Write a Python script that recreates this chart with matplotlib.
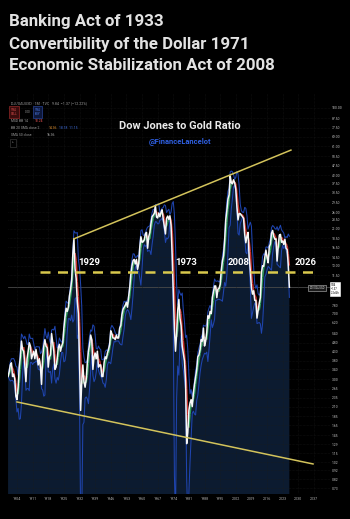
import matplotlib
matplotlib.use("Agg")
import matplotlib.pyplot as plt
from matplotlib.collections import LineCollection
import numpy as np
import pandas as pd

# Dow Jones / Gold ratio, one reading every half year (Jan, Jul), 1900 -> 2026
start_year = 1900.0
ratio = [
    3.1, 3.3, 3.6, 3.7, 3.1, 3.2, 3.0, 2.4, 2.3, 2.7,      # 1900-1904
    3.5, 4.0, 4.9, 4.4, 4.3, 3.6, 2.9, 3.9, 4.3, 4.8,      # 1905-1909
    4.6, 3.9, 4.1, 4.3, 3.9, 4.4, 4.0, 3.6, 3.9, 3.5,      # 1910-1914
    2.8, 4.0, 4.6, 5.0, 4.6, 4.5, 3.5, 4.0, 4.1, 5.4,      # 1915-1919
    4.8, 4.3, 3.4, 3.5, 3.9, 4.5, 4.7, 4.3, 4.6, 4.8,      # 1920-1924
    5.8, 6.7, 7.5, 7.2, 7.6, 8.8, 9.6, 10.8, 15.0, 18.4,   # 1925-1929
    12.5, 11.0, 8.2, 7.0, 3.8, 2.0, 2.9, 3.6, 2.9, 2.7,    # 1930-1934
    3.0, 3.7, 4.3, 4.7, 5.3, 5.0, 3.4, 4.0, 4.2, 3.9,      # 1935-1939
    4.3, 3.5, 3.6, 3.6, 3.1, 3.1, 3.7, 4.0, 3.9, 4.2,      # 1940-1944
    4.4, 4.7, 5.6, 5.4, 5.1, 5.1, 5.0, 5.3, 5.1, 5.1,      # 1945-1949
    5.8, 6.0, 6.9, 7.4, 7.6, 7.8, 8.1, 7.6, 8.7, 9.8,      # 1950-1954
    11.6, 13.0, 13.9, 14.1, 13.3, 14.1, 12.4, 13.3, 16.5, 18.9,  # 1955-1959
    17.6, 17.7, 18.2, 19.6, 20.0, 16.3, 18.9, 20.0, 22.4, 24.5,  # 1960-1964
    25.0, 25.6, 28.2, 24.4, 24.1, 25.7, 24.5, 25.9, 26.8, 23.8,  # 1965-1969
    21.5, 19.6, 24.0, 24.7, 23.7, 24.8, 22.0, 15.0, 9.5, 5.8,    # 1970-1974
    4.3, 5.4, 7.3, 8.4, 6.6, 6.0, 4.6, 4.2, 3.8, 2.9,      # 1975-1979
    1.3, 1.5, 2.0, 2.2, 2.3, 2.1, 2.5, 2.8, 3.1, 3.4,      # 1980-1984
    4.0, 4.1, 4.4, 5.0, 4.9, 5.8, 4.6, 4.9, 5.5, 6.8,      # 1985-1989
    6.6, 7.2, 7.0, 8.6, 9.3, 10.0, 10.0, 8.6, 9.6, 9.7,    # 1990-1994
    10.2, 12.2, 13.8, 14.8, 18.0, 23.5, 26.6, 30.8, 32.5, 41.5,  # 1995-1999
    38.0, 37.5, 39.5, 38.0, 35.0, 28.0, 23.5, 25.5, 25.5, 25.0,  # 2000-2004
    24.5, 24.0, 19.5, 17.5, 19.0, 20.0, 14.5, 12.2, 9.8, 9.0,    # 2005-2009
    9.4, 8.3, 8.3, 6.6, 7.3, 8.0, 8.6, 11.9, 13.0, 12.9,   # 2010-2014
    14.5, 15.9, 14.5, 13.5, 16.6, 17.2, 19.8, 20.5, 19.0, 18.3,  # 2015-2019
    18.4, 13.8, 16.6, 19.3, 19.5, 17.6, 17.9, 17.1, 18.3, 16.3,  # 2020-2024
    16.0, 13.2, 9.84,                                      # 2025-2026
]
last_price = 9.84

# trend lines: (year, ratio) end points
upper_trend = [(1929.5, 18.4), (2026.7, 58.0)]
lower_trend = [(1904.0, 2.23), (2036.6, 1.0)]
support_level = 12.0
support_span = (1914.3, 2038.8)

# era labels: text, year position, ratio position
era_labels = [("1929", 1936.2, 13.5), ("1973", 1979.7, 13.5),
              ("2008", 2003.4, 13.5), ("2026", 2033.4, 13.5)]

title_lines = ["Banking Act of 1933",
               "Convertibility of the Dollar 1971",
               "Economic Stabilization Act of 2008"]

x_ticks = list(range(1904, 2038, 7))
y_ticks = [100.00, 87.50, 77.50, 69.00, 61.00, 53.50, 47.50, 42.00, 37.50,
           33.50, 29.50, 26.00, 23.50, 21.00, 18.50, 16.50, 14.50, 13.00, 11.50,
           7.80, 7.00, 6.20, 5.40, 4.80, 4.30, 3.80, 3.40, 3.00, 2.65, 2.35,
           2.10, 1.85, 1.65, 1.45, 1.29, 1.15, 1.02, 0.92, 0.82, 0.73]

years = start_year + 0.5 * np.arange(len(ratio))
s = pd.Series(ratio, index=years)
ma = s.rolling(3, min_periods=1).mean()
bb_mid = s.rolling(4, min_periods=1).mean()
bb_std = s.rolling(4, min_periods=1).std(ddof=0).fillna(0)
bb_up = bb_mid + 2 * bb_std
bb_lo = (bb_mid - 2 * bb_std).clip(lower=0.5)

plt.rcParams['font.family'] = ['Roboto', 'DejaVu Sans']
fig = plt.figure(figsize=(3.5, 5.19), dpi=100, facecolor='black')
ax = fig.add_axes([8 / 350, 25 / 519, 322 / 350, 401 / 519])
ax.set_facecolor('black')
ax.set_yscale('log')
ax.set_xlim(1899.97, 2044.2)
ax.set_ylim(0.678, 121.4)

ax.fill_between(years, ratio, 0.01, color='#0c1b30', lw=0, zorder=1)
ax.plot(years, bb_up, color='#1f45b0', lw=0.75, zorder=2)
ax.plot(years, bb_lo, color='#1f45b0', lw=0.75, zorder=2)

pts = np.column_stack([years, ma.values])
segs = np.stack([pts[:-1], pts[1:]], axis=1)
cols = ['#2f9e5a' if b >= a else '#c9302c' for a, b in zip(ma.values[:-1], ma.values[1:])]
ax.add_collection(LineCollection(segs, colors=cols, linewidths=1.1, zorder=3))
ax.plot(years, ratio, color='#f7f7f7', lw=1.1, zorder=4)

ax.axhline(last_price, color='#4a4a4a', lw=0.6, zorder=1.5)
(x0, y0), (x1, y1) = upper_trend
ax.plot([x0, x1], [y0, y1], color='#d3c35b', lw=1.1, zorder=5)
(x0, y0), (x1, y1) = lower_trend
ax.plot([x0, x1], [y0, y1], color='#d3c35b', lw=1.1, zorder=5)
ax.plot(support_span, [support_level] * 2, color='#d9c94d', lw=1.8,
        dashes=(4, 3), zorder=5)

for txt, xv, yv in era_labels:
    ax.text(xv, yv, txt, color='white', fontsize=6.8, fontweight='bold',
            ha='center', va='center', zorder=6)

ax.set_xticks(x_ticks)
ax.set_xticklabels([str(y) for y in x_ticks])
ax.set_yticks(y_ticks)
ax.set_yticklabels([f"{v:.2f}" for v in y_ticks])
ax.yaxis.set_minor_locator(matplotlib.ticker.NullLocator())
ax.yaxis.tick_right()
ax.tick_params(axis='x', colors='#b0b0b0', labelsize=2.6, length=0, pad=2)
ax.tick_params(axis='y', colors='#c0c0c0', labelsize=2.4, length=0, pad=1.5)
ax.grid(True, color='#1b1b1b', lw=0.4, ls=(0, (1, 1.5)))
for sp in ax.spines.values():
    sp.set_visible(False)

# title block
for i, line in enumerate(title_lines):
    fig.text(9 / 350, 1 - (22 + 22 * i) / 519, line, color='#e2e2e2',
             fontsize=12.2, fontweight='bold', ha='left', va='center')

fig.text(180 / 350, 1 - 126 / 519, "Dow Jones to Gold Ratio", color='#eaeaea',
         fontsize=7.9, fontweight='bold', ha='center', va='center')
fig.text(180 / 350, 1 - 142 / 519, "@FinanceLancelot", color='#2f5fe0',
         fontsize=5.4, fontweight='bold', ha='center', va='center')

# indicator legend, top left
lx = 11 / 350
fig.text(lx, 1 - 103 / 519, "DJI/XAUUSD · 1M · TVC   9.84  −1.37 (−12.22%)",
         color='#9a9a9a', fontsize=2.6, va='center')
fig.text(lx, 1 - 112 / 519, "9.84\nSELL", color='#e05050', fontsize=2.2,
         va='center', linespacing=1.1,
         bbox=dict(boxstyle='square,pad=0.5', fc='#3a0d0d', ec='#b03030', lw=0.4))
fig.text(lx + 14 / 350, 1 - 112 / 519, "0.00", color='#9a9a9a', fontsize=2.2, va='center')
fig.text(lx + 24 / 350, 1 - 112 / 519, "9.84\nBUY", color='#5080f0', fontsize=2.2,
         va='center', linespacing=1.1,
         bbox=dict(boxstyle='square,pad=0.5', fc='#0d173a', ec='#3050b0', lw=0.4))
fig.text(lx, 1 - 121 / 519, "MSD BB 14", color='#9a9a9a', fontsize=2.4, va='center')
fig.text(lx + 24 / 350, 1 - 121 / 519, "10.24", color='#e05050', fontsize=2.4, va='center')
fig.text(lx, 1 - 128 / 519, "BB 20 SMA close 2", color='#9a9a9a', fontsize=2.4, va='center')
fig.text(lx + 38 / 350, 1 - 128 / 519, "14.36", color='#e09030', fontsize=2.4, va='center')
fig.text(lx + 48 / 350, 1 - 128 / 519, "18.18  11.15", color='#4070e0', fontsize=2.4, va='center')
fig.text(lx, 1 - 135 / 519, "SMA 50 close", color='#9a9a9a', fontsize=2.4, va='center')
fig.text(lx + 36 / 350, 1 - 135 / 519, "16.36", color='#b0b0b0', fontsize=2.4, va='center')
fig.text(lx + 1 / 350, 1 - 143 / 519, "^", color='#9a9a9a', fontsize=2.6, va='center',
         bbox=dict(boxstyle='square,pad=0.6', fc='black', ec='#444444', lw=0.4))

# last price tags on the right
fig.text(317 / 350, 1 - 288 / 519, "DJI/XAUUSD", color='#dddddd', fontsize=2.0,
         ha='center', va='center',
         bbox=dict(boxstyle='square,pad=0.4', fc='#1a1a1a', ec='#bbbbbb', lw=0.4))
fig.text(331 / 350, 1 - 289 / 519, "9.84\n−1.37\n22d 4h", color='black', fontsize=1.9,
         ha='left', va='center', linespacing=1.0,
         bbox=dict(boxstyle='square,pad=0.4', fc='white', ec='white', lw=0.4))

fig.savefig('out.png', dpi=100, facecolor='black')
